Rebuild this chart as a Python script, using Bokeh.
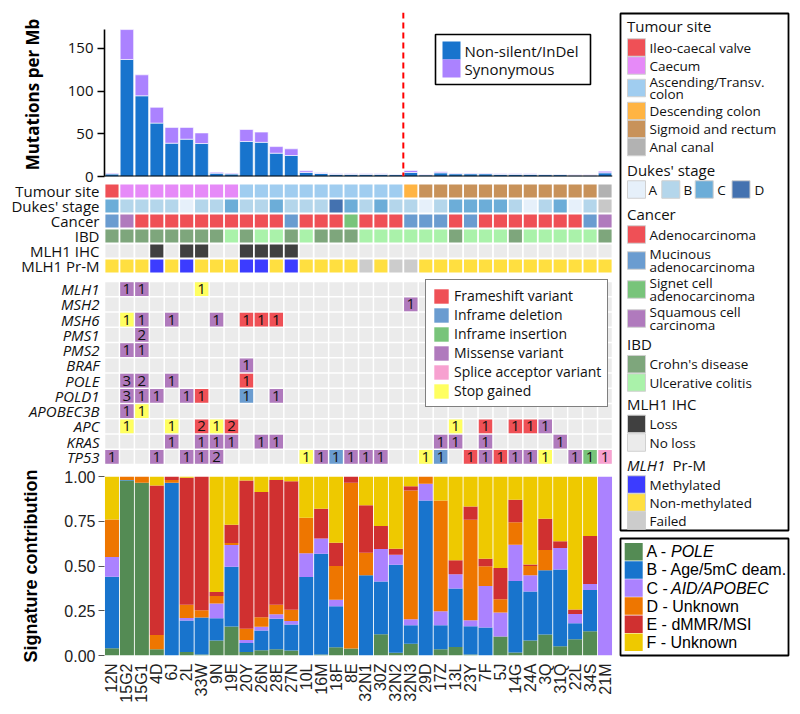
import math
import numpy as np
from bokeh.plotting import figure
from bokeh.models import (ColumnDataSource, Range1d, FactorRange, FixedTicker, Span,
                          Legend, LegendItem, NumeralTickFormatter)
from bokeh.layouts import row, column
from bokeh.embed import file_html
from bokeh.resources import INLINE
from bokeh.core.properties import value

# ---------------------------------------------------------------- data
samples = ["12N", "15G2", "15G1", "4D", "6J", "2L", "33W", "9N", "19E", "20Y", "26N", "28E",
           "27N", "10L", "16M", "18F", "8E", "32N1", "30Z", "32N2", "32N3", "29D", "17Z", "13L",
           "23Y", "7F", "5J", "14G", "24A", "3Q", "31Q", "22L", "34S", "21M"]

mut_nonsilent = [3.0, 137, 94.5, 62.5, 39, 43.7, 38.6, 3.9, 3.0, 41, 40, 27.3, 24.6, 4.7, 3.5,
                 2.5, 2.5, 2.5, 2.5, 2.2, 4.7, 1.9, 4.3, 3.2, 3.2, 3.2, 2.5, 2.5, 2.5, 2.2, 2.2,
                 1.6, 1.6, 4.3]
mut_synonymous = [0.9, 35, 24.5, 18.5, 18.5, 13.8, 12.4, 1.2, 0.9, 14, 12, 7.7, 7.8, 1.9, 0.8,
                  0.6, 0.6, 0.6, 0.6, 0.5, 2.3, 0.4, 1.2, 0.7, 0.7, 0.7, 0.6, 0.6, 0.6, 0.5, 0.5,
                  0.4, 0.4, 1.9]
split_sample = "32N3"

tumour_site = (["Ileo-caecal valve"] + ["Caecum"] * 8 + ["Ascending/Transv. colon"] * 11 +
               ["Descending colon"] + ["Sigmoid and rectum"] * 12 + ["Anal canal"])
dukes_stage = ["C", "B", "B", "B", "B", "A", "B", "B", "C", "B", "B", "C", "B", "B", "B", "D",
               "C", "B", "C", "B", "B", "A", "B", "C", "C", "C", "C", "B", "A", "B", "C", "A",
               "B", "NA"]
AD, MU, SI, SQ = ("Adenocarcinoma", "Mucinous adenocarcinoma", "Signet cell adenocarcinoma",
                  "Squamous cell carcinoma")
cancer_type = [MU, SQ, AD, AD, AD, AD, AD, AD, AD, AD, AD, AD, MU, AD, AD, AD, SI, AD, AD, AD,
               MU, MU, MU, AD, MU, AD, AD, AD, AD, AD, AD, AD, MU, SQ]
CD, UC = "Crohn's disease", "Ulcerative colitis"
ibd_status = [CD, CD, CD, CD, CD, CD, CD, CD, UC, CD, UC, UC, CD, UC, CD, CD, CD, UC, UC, UC,
              UC, UC, UC, CD, UC, UC, UC, CD, UC, UC, UC, UC, UC, CD]
LO, NL = "Loss", "No loss"
mlh1_ihc = [NL, NL, NL, LO, NL, LO, LO, NL, NL, LO, LO, LO, LO] + [NL] * 21
ME, NM, FA = "Methylated", "Non-methylated", "Failed"
mlh1_prm = [NM, NM, NM, ME, NM, ME, NM, NM, NM, ME, ME, NM, ME, NM, NM, NM, NM, FA, NM, FA,
            FA] + [NM] * 13

genes = ["MLH1", "MSH2", "MSH6", "PMS1", "PMS2", "BRAF", "POLE", "POLD1", "APOBEC3B", "APC",
         "KRAS", "TP53"]
mut_gene = (["MLH1"] * 3 + ["MSH2"] + ["MSH6"] * 7 + ["PMS1"] + ["PMS2"] * 2 + ["BRAF"] +
            ["POLE"] * 4 + ["POLD1"] * 7 + ["APOBEC3B"] * 2 + ["APC"] * 10 + ["KRAS"] * 10 +
            ["TP53"] * 22)
mut_sample = ["15G2", "15G1", "33W",
              "32N3",
              "15G2", "15G1", "6J", "9N", "20Y", "26N", "28E",
              "15G1",
              "15G2", "15G1",
              "20Y",
              "15G2", "15G1", "6J", "20Y",
              "15G2", "15G1", "4D", "2L", "33W", "20Y", "28E",
              "15G2", "15G1",
              "15G2", "6J", "33W", "9N", "19E", "13L", "7F", "14G", "24A", "3Q",
              "6J", "33W", "9N", "19E", "26N", "28E", "17Z", "13L", "7F", "31Q",
              "12N", "4D", "2L", "33W", "9N", "10L", "16M", "18F", "8E", "32N1", "30Z", "29D",
              "17Z", "23Y", "7F", "5J", "14G", "24A", "3Q", "22L", "34S", "21M"]
FS, DL, IN, MS, SP, ST = ("Frameshift variant", "Inframe deletion", "Inframe insertion",
                          "Missense variant", "Splice acceptor variant", "Stop gained")
mut_type = ([MS, MS, ST] + [MS] + [ST, MS, MS, MS, FS, FS, FS] + [MS] + [MS, MS] + [MS] +
            [MS, MS, MS, FS] + [MS, MS, MS, MS, FS, DL, MS] + [MS, ST] +
            [ST, ST, FS, ST, FS, ST, FS, FS, FS, MS] + [MS] * 10 +
            [MS, MS, MS, MS, MS, ST, MS, DL, MS, MS, MS, ST, DL, FS, MS, FS, MS, MS, ST, MS,
             IN, SP])
mut_count = ([1, 1, 1] + [1] + [1] * 7 + [2] + [1, 1] + [1] + [3, 2, 1, 1] +
             [3, 1, 1, 1, 1, 1, 1] + [1, 1] + [1, 1, 2, 1, 2, 1, 1, 1, 1, 1] + [1] * 10 +
             [1, 1, 1, 1, 2] + [1] * 17)

sig_A = [0.04, 0.977, 0.965, 0.035, 0, 0.02, 0.005, 0.084, 0.162, 0.019, 0.03, 0.035, 0.028,
         0, 0.006, 0.046, 0.039, 0, 0.119, 0.015, 0.065, 0, 0.035, 0.048, 0.006, 0, 0.106,
         0.017, 0.084, 0.117, 0.052, 0.091, 0.136, 0]
sig_B = [0.40, 0.004, 0, 0, 0.965, 0.175, 0.207, 0.124, 0.334, 0.051, 0.109, 0.171, 0.145,
         0.439, 0.563, 0.229, 0, 0.448, 0.295, 0.492, 0.104, 0.866, 0.134, 0.326, 0.158, 0.156,
         0, 0.399, 0.273, 0.359, 0.428, 0.089, 0.23, 0]
sig_C = [0.11, 0, 0, 0, 0, 0.015, 0, 0.082, 0.121, 0.017, 0.021, 0.024, 0.02, 0.132, 0.085,
         0.037, 0, 0, 0.181, 0.056, 0.034, 0.093, 0.078, 0.08, 0.033, 0.232, 0.134, 0.203,
         0.091, 0, 0.12, 0.052, 0.034, 1.0]
sig_D = [0.21, 0.019, 0.035, 0.08, 0.015, 0.073, 0.041, 0.043, 0.011, 0.063, 0.054, 0.054,
         0.063, 0.199, 0, 0.188, 0.926, 0.126, 0, 0, 0.719, 0.041, 0.619, 0, 0.561, 0.11,
         0.074, 0.126, 0.052, 0.113, 0, 0, 0, 0]
sig_E = [0, 0, 0, 0.835, 0.02, 0.71, 0.747, 0.022, 0.102, 0.828, 0.699, 0.696, 0.718, 0,
         0.166, 0.13, 0.035, 0.266, 0.128, 0.034, 0.024, 0, 0, 0.078, 0.075, 0.043, 0.175,
         0.125, 0.009, 0.175, 0.038, 0.025, 0.267, 0]
sig_F = [0.24, 0, 0, 0.05, 0, 0.007, 0, 0.645, 0.27, 0.022, 0.087, 0.02, 0.026, 0.23, 0.18,
         0.37, 0, 0.16, 0.277, 0.403, 0.054, 0, 0.134, 0.468, 0.167, 0.459, 0.511, 0.13,
         0.491, 0.236, 0.362, 0.743, 0.333, 0]

# ---------------------------------------------------------------- styles
COL_NS, COL_SYN = "#1874CD", "#AB82FF"
tumour_levels = ["Ileo-caecal valve", "Caecum", "Ascending/Transv. colon", "Descending colon",
                 "Sigmoid and rectum", "Anal canal"]
tumour_cols = ["#EF5056", "#E68AF8", "#A0CDF0", "#FFB443", "#C8925A", "#B2B2B2"]
dukes_levels = ["A", "B", "C", "D", "NA"]
dukes_cols = ["#E6F0FA", "#B4D6EB", "#6CADD8", "#4472B0", "#C8C8C8"]
cancer_levels = [AD, MU, SI, SQ]
cancer_cols = ["#EF5056", "#6A9CD0", "#78C47A", "#B07ABD"]
ibd_levels = [CD, UC]
ibd_cols = ["#7EA67C", "#AAF2AA"]
ihc_levels = [LO, NL]
ihc_cols = ["#404040", "#EBEBEB"]
prm_levels = [ME, NM, FA]
prm_cols = ["#3C3CFF", "#FFDF40", "#CCCCCC"]
mut_levels = [FS, DL, IN, MS, SP, ST]
mut_cols = ["#EF5056", "#6A9CD0", "#78C47A", "#B07ABD", "#F7A1D0", "#FFFF60"]
sig_names = ["A", "B", "C", "D", "E", "F"]
sig_cols = ["#548B54", "#1874CD", "#AB82FF", "#EE7600", "#D03030", "#EEC900"]
EMPTY = "#EBEBEB"
TXT = "#111111"
OS = "Open Sans"
LS = "Liberation Sans"

n = len(samples)
xpos = np.arange(n) + 0.5
W_LEFT = 618
BL, BR = 104, 6                     # left / right borders of the data frames (px)
FRAME_W = W_LEFT - BL - BR
PX_X = n / FRAME_W                   # data units per pixel along x
common = dict(output_backend="svg", toolbar_location=None, min_border_left=BL,
              min_border_right=BR, width=W_LEFT)

# ---------------------------------------------------------------- bar chart
BAR_TOP = 192                        # value at the top edge of the frame
BAR_PX = 164 / BAR_TOP               # px per mutation/Mb
PX_Y = 1 / BAR_PX
p1 = figure(height=187, x_range=Range1d(0, n), y_range=Range1d(0, BAR_TOP),
            x_axis_type=None, min_border_top=12, min_border_bottom=11, **common)
src1 = ColumnDataSource(dict(x=xpos, ns=mut_nonsilent, syn=mut_synonymous))
rb = p1.vbar_stack(["ns", "syn"], x="x", width=0.9, fill_color=[COL_NS, COL_SYN],
                   line_color="white", line_width=0.6, source=src1)
p1.grid.visible = False
p1.outline_line_color = None
ya = p1.yaxis[0]
ya.ticker = FixedTicker(ticks=[0, 50, 100, 150])
ya.bounds = (0, 172)
ya.axis_line_color = "black"
ya.axis_line_width = 1.6
ya.major_tick_line_width = 1.6
ya.major_tick_out = 7
ya.major_tick_in = 0
ya.major_label_standoff = 4
ya.major_label_text_font = OS
ya.major_label_text_font_size = "15px"
ya.major_label_text_color = TXT
ya.axis_label = "Mutations per Mb"
ya.axis_label_text_font = OS
ya.axis_label_text_font_style = "bold"
ya.axis_label_text_font_size = "17px"
ya.axis_label_text_color = "black"
ya.axis_label_standoff = 21
p1.add_layout(Span(location=0, dimension="width", line_color="black", line_width=2))
p1.add_layout(Span(location=samples.index(split_sample), dimension="height",
                   line_color="#FF0000", line_dash="6 4", line_width=2))


def bx_(px):   # px offset from frame left -> data x
    return px * PX_X


def by_(px):   # px offset above the bar baseline -> data y
    return px * PX_Y


# legend of the bar chart
p1.quad(left=[bx_(331)], right=[bx_(486)], bottom=[by_(92)], top=[by_(142)],
        fill_color="white", line_color="black", line_width=1.6)
leg_bar_labels = ["Non-silent/InDel", "Synonymous"]
leg_bar_y = [by_(126), by_(108)]
p1.rect(x=[bx_(347)] * 2, y=leg_bar_y, width=bx_(18), height=by_(18),
        fill_color=[COL_NS, COL_SYN], line_color=None)
p1.text(x=[bx_(360)] * 2, y=leg_bar_y, text=leg_bar_labels, text_baseline="middle",
        text_font=value(OS), text_font_size=value("15px"), text_color=TXT)

# ---------------------------------------------------------------- annotation tracks
track_rows = ["Tumour site", "Dukes' stage", "Cancer", "IBD", "MLH1 IHC", "MLH1 Pr-M"]
track_vals = [tumour_site, dukes_stage, cancer_type, ibd_status, mlh1_ihc, mlh1_prm]
track_maps = [dict(zip(tumour_levels, tumour_cols)), dict(zip(dukes_levels, dukes_cols)),
              dict(zip(cancer_levels, cancer_cols)), dict(zip(ibd_levels, ibd_cols)),
              dict(zip(ihc_levels, ihc_cols)), dict(zip(prm_levels, prm_cols))]
nt = len(track_rows)
tx, ty, tc = [], [], []
for r, (vals, cmap) in enumerate(zip(track_vals, track_maps)):
    for i, v in enumerate(vals):
        tx.append(i + 0.5)
        ty.append(nt - 0.5 - r)
        tc.append(cmap[v])
p2 = figure(height=98, x_range=Range1d(0, n), y_range=Range1d(0, nt), x_axis_type=None,
            min_border_top=4, min_border_bottom=4, margin=(-8, 0, 0, 0),
            background_fill_alpha=0, border_fill_alpha=0, **common)
p2.rect(x="x", y="y", width=0.88, height=0.88, fill_color="c", line_color=None,
        source=ColumnDataSource(dict(x=tx, y=ty, c=tc)))
p2.grid.visible = False
p2.outline_line_color = None
a2 = p2.yaxis[0]
tick2 = [nt - 0.5 - r for r in range(nt)]
a2.ticker = FixedTicker(ticks=tick2)
a2.major_label_overrides = {t: lab for t, lab in zip(tick2, track_rows)}
a2.axis_line_color = None
a2.major_tick_line_color = None
a2.major_tick_out = 0
a2.major_tick_in = 0
a2.major_label_standoff = 5
a2.major_label_text_font = OS
a2.major_label_text_font_size = "15px"
a2.major_label_text_color = TXT

# ---------------------------------------------------------------- mutation grid
ng = len(genes)
row_px = 15.25
p3 = figure(height=189, x_range=Range1d(0, n),
            y_range=Range1d(-2 / row_px, ng + 4 / row_px), x_axis_type=None,
            min_border_top=0, min_border_bottom=0, **common)
gx = [i + 0.5 for g in range(ng) for i in range(n)]
gy = [ng - 0.5 - g for g in range(ng) for i in range(n)]
p3.rect(x=gx, y=gy, width=0.9, height=0.9, fill_color=EMPTY, line_color=None)
mx = [samples.index(s) + 0.5 for s in mut_sample]
my = [ng - 0.5 - genes.index(g) for g in mut_gene]
mut_renderers = []
for lev, col in zip(mut_levels, mut_cols):
    idx = [k for k, t in enumerate(mut_type) if t == lev]
    r = p3.rect(x=[mx[k] for k in idx], y=[my[k] for k in idx], width=0.9, height=0.9,
                fill_color=col, line_color=None)
    mut_renderers.append(r)
p3.text(x=mx, y=my, text=[str(c) for c in mut_count], text_align="center",
        text_baseline="middle", text_font=value(OS), text_font_size=value("15px"),
        text_color="#111111")
p3.grid.visible = False
p3.outline_line_color = None
a3 = p3.yaxis[0]
tick3 = [ng - 0.5 - g for g in range(ng)]
a3.ticker = FixedTicker(ticks=tick3)
a3.major_label_overrides = {t: g for t, g in zip(tick3, genes)}
a3.axis_line_color = None
a3.major_tick_line_color = None
a3.major_tick_out = 0
a3.major_tick_in = 0
a3.major_label_standoff = 5
a3.major_label_text_font = OS
a3.major_label_text_font_style = "italic"
a3.major_label_text_font_size = "15px"
a3.major_label_text_color = TXT
lg3 = Legend(items=[LegendItem(label=l, renderers=[r]) for l, r in zip(mut_levels, mut_renderers)],
             location=(321, 59), glyph_width=18, glyph_height=18, label_height=18,
             label_standoff=4, spacing=0, padding=6, margin=0,
             border_line_color="black", border_line_width=1.6, background_fill_alpha=1,
             label_text_font=OS, label_text_font_size="14px", label_text_color=TXT)
p3.add_layout(lg3)

# ---------------------------------------------------------------- signatures
p4 = figure(height=240, x_range=FactorRange(factors=samples), y_range=Range1d(0, 1),
            min_border_top=10, min_border_bottom=51, **common)
src4 = ColumnDataSource(dict(sample=samples, A=sig_A, B=sig_B, C=sig_C, D=sig_D, E=sig_E,
                             F=sig_F))
p4.vbar_stack(sig_names, x="sample", width=0.94, fill_color=sig_cols, line_color=None,
              source=src4)
p4.grid.visible = False
p4.outline_line_color = None
a4 = p4.yaxis[0]
a4.ticker = FixedTicker(ticks=[0, 0.25, 0.5, 0.75, 1.0])
a4.formatter = NumeralTickFormatter(format="0.00")
a4.axis_line_color = None
a4.major_tick_line_color = "#555555"
a4.major_tick_out = 6
a4.major_tick_in = 0
a4.major_label_standoff = 3
a4.major_label_text_font = LS
a4.major_label_text_font_size = "16px"
a4.major_label_text_color = "#222222"
a4.axis_label = "Signature contribution"
a4.axis_label_text_font = LS
a4.axis_label_text_font_style = "bold"
a4.axis_label_text_font_size = "18px"
a4.axis_label_text_color = "black"
a4.axis_label_standoff = 20
b4 = p4.xaxis[0]
b4.major_label_orientation = math.pi / 2
b4.axis_line_color = None
b4.major_tick_line_color = None
b4.major_tick_out = 0
b4.major_tick_in = 0
b4.major_label_standoff = 8
b4.major_label_text_font = LS
b4.major_label_text_font_size = "16px"
b4.major_label_text_color = "#222222"

# ---------------------------------------------------------------- legends panel
LW, LH = 174, 706
leg = figure(width=LW, height=LH, x_range=Range1d(0, LW), y_range=Range1d(LH - 8, -8),
             x_axis_type=None, y_axis_type=None, output_backend="svg",
             toolbar_location=None, min_border=0)
leg.grid.visible = False
leg.outline_line_color = None

leg.quad(left=[2], right=[170], top=[5], bottom=[522], fill_color=None, line_color="black",
         line_width=1.8)
leg.quad(left=[2], right=[170], top=[530], bottom=[647], fill_color=None, line_color="black",
         line_width=1.8)

title_x, sw_x, lab_x = 8.5, 18, 31
titles = [("Tumour site", 17), ("Dukes' stage", 161), ("Cancer", 205), ("IBD", 335),
          ("MLH1 IHC", 395)]
leg.text(x=[title_x] * len(titles), y=[t[1] for t in titles], text=[t[0] for t in titles],
         text_baseline="middle", text_font=value(OS), text_font_size=value("15px"),
         text_color=TXT)
leg.text(x=[title_x], y=[456], text=["MLH1"], text_baseline="middle", text_font=value(OS),
         text_font_size=value("15px"), text_font_style=value("italic"), text_color=TXT)
leg.text(x=[54], y=[456], text=["Pr-M"], text_baseline="middle", text_font=value(OS),
         text_font_size=value("15px"), text_color=TXT)

vertical_groups = [
    (["Ileo-caecal valve", "Caecum", "Ascending/Transv.\ncolon", "Descending colon",
      "Sigmoid and rectum", "Anal canal"], tumour_cols, [39, 57, 79.5, 102.5, 120.5, 138.5]),
    (["Adenocarcinoma", "Mucinous\nadenocarcinoma", "Signet cell\nadenocarcinoma",
      "Squamous cell\ncarcinoma"], cancer_cols, [226, 252, 281, 310]),
    ([CD, UC], ibd_cols, [355.7, 374]),
    ([LO, NL], ihc_cols, [415.4, 434]),
    ([ME, NM, FA], prm_cols, [476, 494, 512]),
]
sx, sy, sc, lx, ly, lt = [], [], [], [], [], []
for labels, cols, ys in vertical_groups:
    for lab, col, yc in zip(labels, cols, ys):
        sx.append(sw_x); sy.append(yc); sc.append(col)
        lines = lab.split("\n")
        for k, line in enumerate(lines):
            lx.append(lab_x)
            ly.append(yc + (k - (len(lines) - 1) / 2) * 12.8)
            lt.append(line)
# Dukes' stage (horizontal)
for lab, col, xs_, xt_ in zip(dukes_levels[:4], dukes_cols[:4], [18, 52.3, 85.7, 122.5],
                              [30, 65, 98.7, 136]):
    sx.append(xs_); sy.append(181); sc.append(col)
    lx.append(xt_); ly.append(181); lt.append(lab)
leg.rect(x=sx, y=sy, width=18, height=17.5, fill_color=sc, line_color="#D0D0D0",
         line_width=1)
leg.text(x=lx, y=ly, text=lt, text_baseline="middle", text_font=value(OS),
         text_font_size=value("13.5px"), text_color=TXT)

# signature legend
sig_prefix = ["A - ", "B - ", "C - ", "D - ", "E - ", "F - "]
sig_label = ["POLE", "Age/5mC deam.", "AID/APOBEC", "Unknown", "dMMR/MSI", "Unknown"]
sig_italic = [True, False, True, False, False, False]
sig_y = [543.3 + 18.1 * k for k in range(6)]
leg.rect(x=[15.2] * 6, y=sig_y, width=18, height=17.5, fill_color=sig_cols, line_color=None)
plain = [k for k in range(6) if not sig_italic[k]]
ital = [k for k in range(6) if sig_italic[k]]
leg.text(x=[28] * len(plain), y=[sig_y[k] for k in plain],
         text=[sig_prefix[k] + sig_label[k] for k in plain], text_baseline="middle",
         text_font=value(LS), text_font_size=value("16px"), text_color="black")
leg.text(x=[28] * len(ital), y=[sig_y[k] for k in ital], text=[sig_prefix[k] for k in ital],
         text_baseline="middle", text_font=value(LS), text_font_size=value("16px"),
         text_color="black")
leg.text(x=[52.5] * len(ital), y=[sig_y[k] for k in ital], text=[sig_label[k] for k in ital],
         text_baseline="middle", text_font=value(LS), text_font_size=value("16px"),
         text_font_style=value("italic"), text_color="black")

layout = row(column(p1, p2, p3, p4), leg)
open("out.html", "w").write(file_html(layout, INLINE))
